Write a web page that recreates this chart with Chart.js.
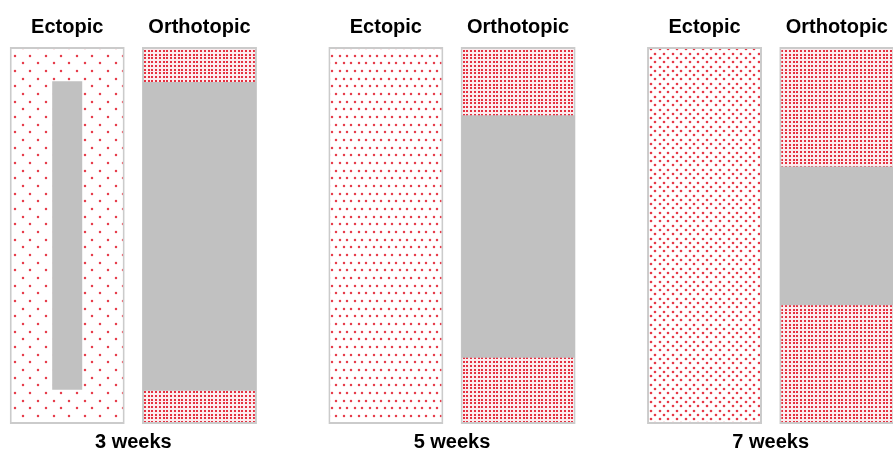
<!DOCTYPE html>
<html><head><meta charset="utf-8">
<script src="https://cdn.jsdelivr.net/npm/chart.js@4"></script>
<style>
html,body{margin:0;padding:0;background:#fff;overflow:hidden;width:893px;height:452px;}
#wrap{position:absolute;left:-26px;top:0;width:956px;height:460px;}
</style></head><body>
<div id="wrap"><canvas id="c"></canvas></div>
<script>
// ---- data ----
const weeks = ['3 weeks', '5 weeks', '7 weeks'];
const sites = ['Ectopic', 'Orthotopic'];
// full tissue column (0 = bottom, 100 = top)
const ectopicTissue = [[0, 100], [0, 100], [0, 100]];
const orthotopicTissue = [[0, 100], [0, 100], [0, 100]];
// grey (unfilled scaffold) region, start/end
const ectopicScaffold = [[9.1, 90.9], null, null];
const orthotopicScaffold = [[8.8, 90.7], [17.6, 81.9], [31.5, 68.3]];
// red dot density level per week (1 sparse .. 4 dense)
const ectopicDensity = [1, 2, 3];
const orthotopicDensity = [4, 4, 4];

// ---- styles ----
function dotPattern(hp, vp, stagger, nx, ny, dot, color, round, bg) {
  const c = document.createElement('canvas');
  c.width = Math.round(hp * nx);
  c.height = Math.round(vp * ny);
  const g = c.getContext('2d');
  g.fillStyle = bg;
  g.fillRect(0, 0, c.width, c.height);
  g.fillStyle = color;
  for (let r = 0; r < ny; r++) {
    const off = stagger && (r % 2) ? hp / 2 : 0;
    for (let k = 0; k < nx; k++) {
      const x = Math.round(k * hp + off + 1);
      const y = Math.round(r * vp + 1);
      if (round) {
        g.beginPath(); g.arc(x + 1, y + 1, dot / 2, 0, Math.PI * 2); g.fill();
      } else {
        g.fillRect(x, y, dot, dot);
      }
    }
  }
  return g.createPattern(c, 'repeat');
}
const patterns = {
  1: dotPattern(15.5, 7.67, true, 4, 6, 2.5, 'rgb(230,62,76)', true, '#ffffff'),
  2: dotPattern(7.5, 7.67, true, 4, 6, 2.5, 'rgb(230,62,76)', true, '#ffffff'),
  3: dotPattern(8.6, 4.3, true, 5, 10, 2.6, 'rgb(230,58,72)', true, '#ffffff'),
  4: dotPattern(3.75, 3.75, false, 4, 4, 2, 'rgb(228,48,64)', false, '#fcecee')
};
const GREY = '#c1c1c1';
const BORDER = '#cbcbcb';
const CAT = 0.83;
const PANEL = 0.869;

const panelTitles = {
  id: 'panelTitles',
  afterDatasetsDraw(chart) {
    const ctx = chart.ctx;
    ctx.save();
    ctx.font = 'bold 20px "Liberation Sans", Arial, sans-serif';
    ctx.fillStyle = '#000';
    ctx.textAlign = 'center';
    ctx.textBaseline = 'alphabetic';
    chart.data.datasets.forEach((ds, i) => {
      if (!ds.isTissue) return;
      chart.getDatasetMeta(i).data.forEach(el => {
        ctx.fillText(ds.label, el.x, chart.chartArea.top - 14);
      });
    });
    ctx.restore();
  }
};

new Chart(document.getElementById('c'), {
  type: 'bar',
  data: {
    labels: weeks,
    datasets: [
      { label: sites[0], data: ectopicScaffold, stack: sites[0], order: 0,
        backgroundColor: GREY, borderWidth: 0,
        categoryPercentage: CAT, barPercentage: 0.227 },
      { label: sites[1], data: orthotopicScaffold, stack: sites[1], order: 0,
        backgroundColor: GREY, borderWidth: 0,
        categoryPercentage: CAT, barPercentage: PANEL - 0.01 },
      { label: sites[0], data: ectopicTissue, stack: sites[0], order: 1, isTissue: true,
        backgroundColor: ectopicDensity.map(d => patterns[d]),
        borderColor: BORDER, borderWidth: 2, borderSkipped: false,
        categoryPercentage: CAT, barPercentage: PANEL },
      { label: sites[1], data: orthotopicTissue, stack: sites[1], order: 1, isTissue: true,
        backgroundColor: orthotopicDensity.map(d => patterns[d]),
        borderColor: BORDER, borderWidth: 2, borderSkipped: false,
        categoryPercentage: CAT, barPercentage: PANEL }
    ]
  },
  options: {
    responsive: true,
    maintainAspectRatio: false,
    animation: false,
    layout: { padding: { top: 47, left: 0, right: 0, bottom: 0 } },
    plugins: { legend: { display: false }, tooltip: { enabled: false }, title: { display: false } },
    scales: {
      x: {
        stacked: true,
        grid: { display: false, drawTicks: false },
        border: { display: false },
        ticks: { color: '#000', padding: 6,
          font: { family: '"Liberation Sans", Arial, sans-serif', size: 20, weight: 'bold' } }
      },
      y: { stacked: false, display: false, min: 0, max: 100 }
    }
  },
  plugins: [panelTitles]
});
</script>
</body></html>
